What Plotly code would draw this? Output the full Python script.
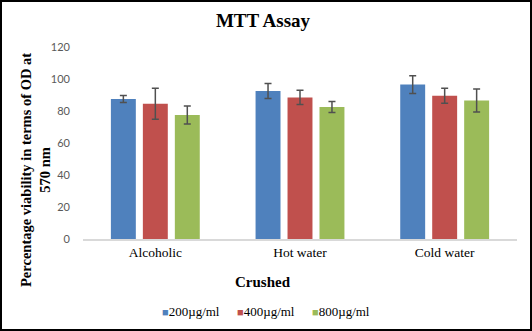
import plotly.graph_objects as go

categories = ["Alcoholic", "Hot water", "Cold water"]
series_names = ["200µg/ml", "400µg/ml", "800µg/ml"]
values_200 = [87.5, 92.5, 96.5]
values_400 = [84.5, 88.5, 89.5]
values_800 = [77.5, 82.5, 86.5]
errors_200 = [2.2, 4.7, 5.6]
errors_400 = [9.7, 4.4, 4.7]
errors_800 = [5.6, 3.4, 7.2]
colors = ["#4F81BD", "#C0504D", "#9BBB59"]

W, H = 532, 331
ML, MR, MT, MB = 83, 15, 47, 92
PW, PH = W - ML - MR, H - MT - MB


def px_x(px):
    return (px - ML) / PW


def px_y(py):
    return ((H - MB) - py) / PH


fig = go.Figure()
for name, vals, errs, col in zip(series_names,
                                 [values_200, values_400, values_800],
                                 [errors_200, errors_400, errors_800],
                                 colors):
    fig.add_trace(go.Bar(
        x=categories, y=vals, name=name, marker_color=col,
        marker_line_width=0, showlegend=False,
        error_y=dict(type="data", array=errs, visible=True,
                     color="#505050", thickness=1.5, width=3.5),
    ))

serif = "Liberation Serif, Times New Roman, serif"

# compact legend row: coloured swatch directly before each series name
legend_notes = []
for i, (name, col) in enumerate(zip(series_names, colors)):
    legend_notes.append(dict(
        text=f'<span style="color:{col};font-size:11px">■</span>{name}',
        xref="paper", yref="paper", x=px_x(160 + 75 * i), y=px_y(311),
        xanchor="left", yanchor="middle", showarrow=False,
        font=dict(family=serif, size=13, color="black")))

fig.update_layout(
    width=W, height=H,
    margin=dict(l=ML, r=MR, t=MT, b=MB, autoexpand=False),
    paper_bgcolor="white", plot_bgcolor="white",
    barmode="group", bargap=0.337, bargroupgap=0.22,
    showlegend=False,
    title=dict(text="<b>MTT Assay</b>", x=263 / W, xanchor="center",
               y=1 - 20 / H, yanchor="middle",
               font=dict(family=serif, size=19, color="black")),
    xaxis=dict(showline=True, linecolor="#D9D9D9", linewidth=1.5,
               ticks="", tickfont=dict(family=serif, size=13.5, color="black"),
               showgrid=False),
    yaxis=dict(range=[0, 120], dtick=20, showgrid=False, showline=False,
               zeroline=False, ticks="", ticklabelstandoff=12,
               tickfont=dict(family="Lato, Open Sans, sans-serif", size=11,
                             color="#595959")),
    annotations=[
        dict(text="<b>Crushed</b>", xref="paper", yref="paper",
             x=px_x(263), y=px_y(282),
             xanchor="center", yanchor="middle", showarrow=False,
             font=dict(family=serif, size=15, color="black")),
        dict(text="<b>Percentage viability in terms of OD at<br>570 nm</b>",
             xref="paper", yref="paper", textangle=-90,
             x=px_x(35), y=px_y(170),
             xanchor="center", yanchor="middle", showarrow=False,
             font=dict(family=serif, size=14.5, color="black")),
    ] + legend_notes,
    shapes=[dict(type="rect", xref="paper", yref="paper",
                 x0=px_x(1), x1=px_x(W - 1),
                 y0=px_y(H - 1), y1=px_y(1),
                 line=dict(color="black", width=2), fillcolor="rgba(0,0,0,0)")],
)

fig.write_html("out.html")
